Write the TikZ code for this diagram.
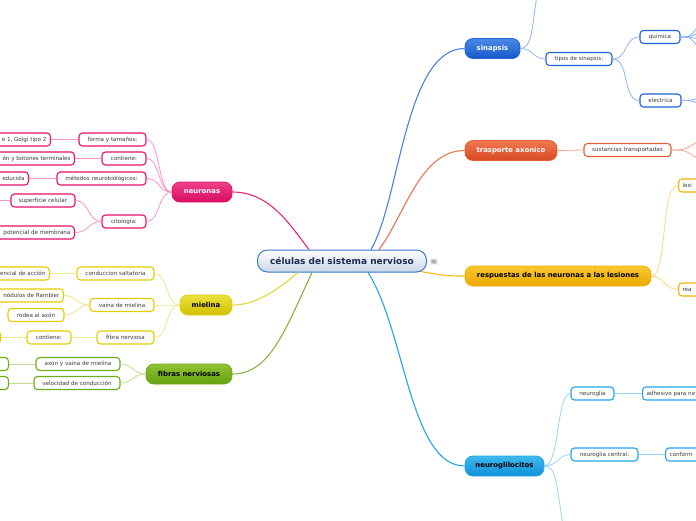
\documentclass[tikz,border=0pt]{standalone}
\usepackage{fontspec}
\setmainfont{DejaVu Sans}
\usetikzlibrary{calc}
\definecolor{pkF1}{HTML}{F0408A}\definecolor{pkF2}{HTML}{D80C60}\definecolor{pkB}{HTML}{E8106A}\definecolor{pkL}{HTML}{F896C4}
\definecolor{yeF1}{HTML}{ECE040}\definecolor{yeF2}{HTML}{D0C000}\definecolor{yeB}{HTML}{E2CE00}\definecolor{yeL}{HTML}{F0E68C}
\definecolor{grF1}{HTML}{92C232}\definecolor{grF2}{HTML}{62A010}\definecolor{grB}{HTML}{6EAC18}\definecolor{grL}{HTML}{C0DC90}
\definecolor{blF1}{HTML}{4A8AE8}\definecolor{blF2}{HTML}{1658C8}\definecolor{blB}{HTML}{1E62D6}\definecolor{blL}{HTML}{90B4F0}
\definecolor{orF1}{HTML}{F07850}\definecolor{orF2}{HTML}{D84A22}\definecolor{orB}{HTML}{E65C34}\definecolor{orL}{HTML}{F8A890}
\definecolor{oyF1}{HTML}{F8C830}\definecolor{oyF2}{HTML}{ECA800}\definecolor{oyB}{HTML}{F2B200}\definecolor{oyL}{HTML}{FCD878}
\definecolor{lbF1}{HTML}{40B8F0}\definecolor{lbF2}{HTML}{1090D8}\definecolor{lbB}{HTML}{22A6EC}\definecolor{lbL}{HTML}{98D4F4}
\definecolor{rootB}{HTML}{3A78C8}\definecolor{rootT}{HTML}{1A2A50}\definecolor{subT}{HTML}{3A3A3A}
\tikzset{
  sub/.style={draw, rounded corners=3.5pt, fill=white, line width=1.1pt, font=\fontsize{5.6}{6.5}\selectfont, text=subT, inner xsep=4pt, inner ysep=0pt, minimum height=13pt},
  lcut/.style={sub, anchor=east, execute at begin node={\hspace*{8pt}}},
  mainn/.style={draw, rounded corners=8pt, line width=0.8pt, minimum height=20pt, font=\fontsize{6.9}{8}\selectfont\bfseries, inner sep=0pt},
  mb/.style={line width=1.1pt},
  lk/.style={line width=0.8pt},
}
\begin{document}
\begin{tikzpicture}[x=1pt,y=-1pt]
\useasboundingbox (0,0) rectangle (696,520);
\clip (0,0) rectangle (696,520);
\fill[white] (0,0) rectangle (696,520);
% ---------- nodes ----------
\node[draw=rootB, line width=1pt, rounded corners=10pt, top color=white, bottom color={rgb,255:red,200;green,214;blue,230}, minimum width=169pt, minimum height=22pt, inner sep=0pt, font=\fontsize{9}{10}\selectfont\bfseries, text=rootT] (root) at (342,261) {células del sistema nervioso};
\node[font=\fontsize{8}{9}\selectfont, text=black!55, fill=black!6, inner sep=0.8pt] (menu) at (434,262) {≡};
% main branches
\node[mainn, draw=blB, top color=blF1, bottom color=blF2, text=white, minimum width=55pt] (sin) at (492.5,48.5) {sinapsis};
\node[mainn, draw=orB, top color=orF1, bottom color=orF2, text=white, minimum width=92pt] (tra) at (511,150.5) {trasporte axonico};
\node[mainn, draw=oyB, top color=oyF1, bottom color=oyF2, text=black, minimum width=186pt] (res) at (558,276) {respuestas de las neuronas a las lesiones};
\node[mainn, draw=lbB, top color=lbF1, bottom color=lbF2, text=black, minimum width=79pt] (ngl) at (504.5,466) {neuroglilocitos};
\node[mainn, draw=pkB, top color=pkF1, bottom color=pkF2, text=white, minimum width=60pt] (neu) at (202,192) {neuronas};
\node[mainn, draw=yeB, top color=yeF1, bottom color=yeF2, text=black, minimum width=52pt] (mie) at (206,305) {mielina};
\node[mainn, draw=grB, top color=grF1, bottom color=grF2, text=black, minimum width=86pt] (fib) at (189,374) {fibras nerviosas};
% sinapsis subs
\node[sub, draw=blB, minimum width=66pt] (tip) at (579,59) {tipos de sinapsis:};
\node[sub, draw=blB, minimum width=40pt] (qui) at (660,37) {química};
\node[sub, draw=blB, minimum width=41pt] (ele) at (660.5,100.5) {electrica};
% trasporte subs
\node[sub, draw=orB, minimum width=87pt] (sus) at (627.5,150) {sustancias transportadas};
% respuestas subs
\node[sub, draw=oyB, anchor=west, text width=40pt, align=left] (les) at (678,185.5) {lesi};
\node[sub, draw=oyB, anchor=west, text width=40pt, align=left] (rea) at (678,289.5) {rea};
% neuroglilocitos subs
\node[sub, draw=lbB, minimum width=43pt] (ngA) at (592.5,393.5) {neuroglia};
\node[sub, draw=lbB, anchor=west, text width=60pt, align=left] (adh) at (642,393.5) {adhesivo para ne};
\node[sub, draw=lbB, minimum width=67pt] (ngC) at (604.5,454.5) {neuroglia central:};
\node[sub, draw=lbB, anchor=west, text width=40pt, align=left] (con) at (665,454.5) {conform};
% neuronas subs
\node[sub, draw=pkB, minimum width=67pt] (for) at (112.5,139.5) {forma y tamaños:};
\node[lcut, draw=pkB] (gol) at (51,139.5) {e 1, Golgi tipo 2};
\node[sub, draw=pkB, minimum width=44pt] (cnt) at (124,158.5) {contiene:};
\node[lcut, draw=pkB] (bot) at (75,158.5) {ón y botones terminales};
\node[sub, draw=pkB, minimum width=89pt] (met) at (101.5,178.5) {métodos neurobiológicos:};
\node[lcut, draw=pkB] (red) at (29,178.5) {educida};
\node[sub, draw=pkB, minimum width=44pt] (cit) at (124,221.5) {citología:};
\node[sub, draw=pkB, minimum width=64pt] (sup) at (43,200.5) {superficie celular};
\node[lcut, draw=pkB] (pot) at (75,232.5) {potencial de membrana};
\coordinate (supL) at (-5,200.5);
% mielina subs
\node[sub, draw=yeB, minimum width=77pt] (csa) at (115.5,273.5) {conduccion saltatoria};
\node[lcut, draw=yeB] (pac) at (50,273.5) {encial de acción};
\node[sub, draw=yeB, minimum width=64pt] (vai) at (122,305) {vaina de mielina};
\node[lcut, draw=yeB] (nod) at (64,295.5) {nódulos de Rambier};
\node[sub, draw=yeB, minimum width=56pt] (rod) at (36,315) {rodea al axón};
\node[sub, draw=yeB, minimum width=57pt] (fnv) at (125.5,337.5) {fibra nerviosa};
\node[sub, draw=yeB, minimum width=44pt] (cn2) at (49,337.5) {contiene:};
\node[sub, draw=yeB, anchor=east, minimum width=30pt] (cn3) at (1,337.5) {};
% fibras subs
\node[sub, draw=grB, minimum width=84pt] (axv) at (78,364) {axon y vaina de mielina};
\node[sub, draw=grB, anchor=east, minimum width=30pt] (ax2) at (9,364) {};
\node[sub, draw=grB, minimum width=86pt] (vel) at (77,383) {velocidad de conducción};
\node[sub, draw=grB, anchor=east, minimum width=30pt] (ve2) at (9,383) {};
% free ends
\coordinate (sinTop) at (541,-20);
\coordinate (q1) at (708,8);
\coordinate (q2) at (708,26);
\coordinate (q3) at (708,42);
\coordinate (q4) at (708,64);
\coordinate (e1) at (708,92);
\coordinate (e2) at (708,110);
\coordinate (s1) at (708,134);
\coordinate (s2) at (708,166);
\coordinate (nglBot) at (565,540);
% ---------- main connectors ----------
\draw[mb, blB!80] ($(root.north)+(29,0)$) .. controls (400,200) and (405,48.5) .. (sin.west);
\draw[mb, orB!85] ($(root.north)+(37,0)$) .. controls (405,215) and (420,150.5) .. (tra.west);
\draw[mb, oyB!90] ($(root.south east)+(-6,-1)$) .. controls (445,276) and (450,276) .. (res.west);
\draw[mb, lbB] ($(root.south)+(26,0)$) .. controls (405,330) and (410,466) .. (ngl.west);
\draw[mb, pkB!90] ($(root.north)+(-33,0)$) .. controls (290,225) and (270,192) .. (neu.east);
\draw[mb, yeB!80] ($(root.south)+(-44,0)$) .. controls (275,292) and (255,305) .. (mie.east);
\draw[mb, grB!85] ($(root.south)+(-30,0)$) .. controls (285,330) and (270,374) .. (fib.east);
% ---------- sub connectors ----------
\begin{scope}[lk]
\draw[blL] (sin.east) .. controls (536,48) and (531,10) .. (sinTop);
\draw[blL] (sin.east) .. controls (533,48.5) and (533,59) .. (tip.west);
\draw[blL] (tip.east) .. controls (628,59) and (624,37) .. (qui.west);
\draw[blL] (tip.east) .. controls (630,59) and (622,100.5) .. (ele.west);
\foreach \c in {q1,q2,q3,q4} \draw[blL] (qui.east) .. controls (692,37) and (692,37) .. (\c);
\foreach \c in {e1,e2} \draw[blL] (ele.east) .. controls (694,100.5) and (694,100.5) .. (\c);
\draw[orL] (tra.east) -- (sus.west);
\foreach \c in {s1,s2} \draw[orL] (sus.east) .. controls (686,150) and (686,150) .. (\c);
\draw[oyL] (res.east) .. controls (668,276) and (660,185.5) .. (les.west);
\draw[oyL] (res.east) .. controls (664,276) and (664,289.5) .. (rea.west);
\draw[lbL] (ngl.east) .. controls (560,466) and (556,393.5) .. (ngA.west);
\draw[lbL] (ngl.east) .. controls (558,466) and (558,454.5) .. (ngC.west);
\draw[lbL] (ngl.east) .. controls (556,466) and (556,480) .. (nglBot);
\draw[lbL] (ngA.east) -- (adh.west);
\draw[lbL] (ngC.east) -- (con.west);
% neuronas
\foreach \c in {for,cnt,met,cit} \draw[pkL] (neu.west) .. controls (158,192) and (160,0 |- \c.east) .. (\c.east);
\draw[pkL] (for.west) -- (gol.east);
\draw[pkL] (cnt.west) -- (bot.east);
\draw[pkL] (met.west) -- (red.east);
\draw[pkL] (cit.west) .. controls (88,221.5) and (89,200.5) .. (sup.east);
\draw[pkL] (cit.west) .. controls (88,221.5) and (89,232.5) .. (pot.east);
\draw[pkL] (sup.west) -- (supL);
% mielina
\foreach \c in {csa,vai,fnv} \draw[yeL] (mie.west) .. controls (166,305) and (168,0 |- \c.east) .. (\c.east);
\draw[yeL] (csa.west) -- (pac.east);
\draw[yeL] (vai.west) .. controls (77,305) and (77,295.5) .. (nod.east);
\draw[yeL] (vai.west) .. controls (77,305) and (77,315) .. (rod.east);
\draw[yeL] (fnv.west) -- (cn2.east);
\draw[yeL] (cn2.west) -- (cn3.east);
% fibras
\foreach \c in {axv,vel} \draw[grL] (fib.west) .. controls (133,374) and (133,0 |- \c.east) .. (\c.east);
\draw[grL] (axv.west) -- (ax2.east);
\draw[grL] (vel.west) -- (ve2.east);
\end{scope}
\end{tikzpicture}
\end{document}
